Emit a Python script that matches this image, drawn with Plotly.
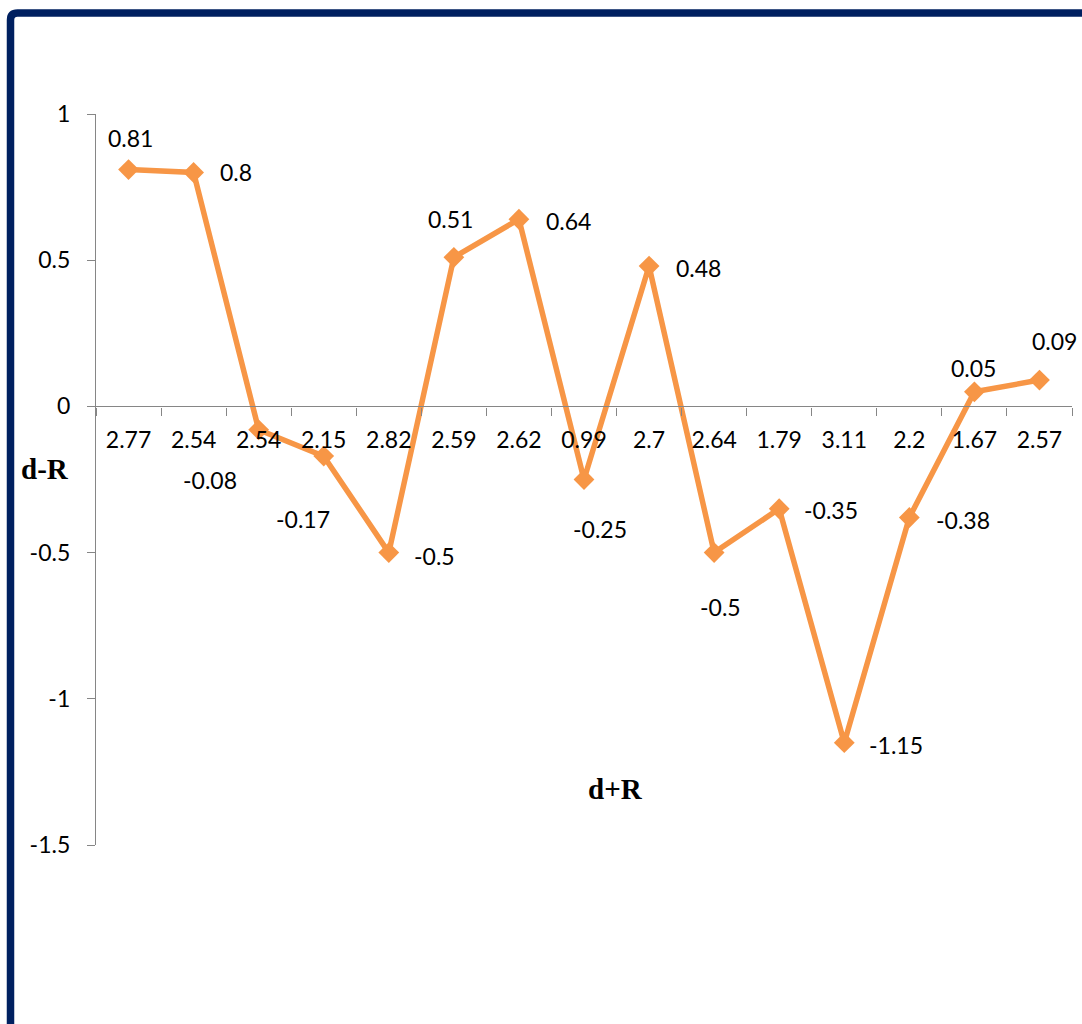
import plotly.graph_objects as go

# Category labels (d+R) and series values (d-R)
categories = ["2.77", "2.54", "2.54", "2.15", "2.82", "2.59", "2.62", "0.99",
              "2.7", "2.64", "1.79", "3.11", "2.2", "1.67", "2.57"]
values = [0.81, 0.8, -0.08, -0.17, -0.5, 0.51, 0.64, -0.25,
          0.48, -0.5, -0.35, -1.15, -0.38, 0.05, 0.09]
y_ticks = [1, 0.5, 0, -0.5, -1, -1.5]

# Pixel offsets (dx right, dy down) of each data label from its point
label_offsets = [(2, -32), (42, 0), (-49, 50), (-21, 63), (46, 3), (-3, -38),
                 (50, 2), (16, 49), (49, 2), (6, 54), (52, 1), (52, 2),
                 (54, 2), (-1, -24), (15, -39)]

W, H = 1082, 1024
L, R, T, B = 96, 10, 114, 179
PW, PH = W - L - R, H - T - B

ORANGE = "#F79646"
GRAY = "#868686"
NAVY = "#002060"
TICK_FONT = dict(family="Lato, 'Open Sans', sans-serif", size=23, color="#000000")


def px(x):
    return (x - L) / PW


def py(y):
    return (H - B - y) / PH


x_idx = list(range(len(categories)))

fig = go.Figure()
fig.add_trace(go.Scatter(
    x=x_idx, y=values, mode="lines+markers",
    line=dict(color=ORANGE, width=5.5),
    marker=dict(symbol="diamond", size=16, color=ORANGE),
    hoverinfo="skip", showlegend=False,
))

annotations = []
for i, (v, (dx, dy)) in enumerate(zip(values, label_offsets)):
    annotations.append(dict(
        x=i, y=v, xref="x", yref="y", text=f"{v:g}", showarrow=False,
        xshift=dx, yshift=-dy, xanchor="center", yanchor="middle",
        font=TICK_FONT,
    ))

title_font = dict(family="'Liberation Serif', 'DejaVu Serif', serif", size=29,
                  color="#000000", weight="bold")
annotations.append(dict(x=px(45), y=py(469), xref="paper", yref="paper", text="d-R",
                        showarrow=False, xanchor="center", yanchor="middle", font=title_font))
annotations.append(dict(x=px(615), y=py(789), xref="paper", yref="paper", text="d+R",
                        showarrow=False, xanchor="center", yanchor="middle", font=title_font))

# Chart-area frame: rounded top-left corner, runs off the right and bottom edges
fx, fy, rad = 10.5, 13, 7
frame_path = (f"M {px(fx)},{py(1100)} L {px(fx)},{py(fy + rad)} "
              f"Q {px(fx)},{py(fy)} {px(fx + rad)},{py(fy)} L {px(1100)},{py(fy)}")

y_min, y_max = -1.5, 1.0
zero_pos = (0 - y_min) / (y_max - y_min)

fig.update_layout(
    width=W, height=H,
    margin=dict(l=L, r=R, t=T, b=B, pad=0),
    paper_bgcolor="white", plot_bgcolor="white",
    annotations=annotations,
    shapes=[dict(type="path", path=frame_path, xref="paper", yref="paper",
                 line=dict(color=NAVY, width=7.5))],
    xaxis=dict(
        range=[-0.5, len(categories) - 0.5],
        tickvals=x_idx, ticktext=categories,
        ticks="outside", ticklen=8, tickcolor="rgba(0,0,0,0)",
        showline=True, linecolor=GRAY, linewidth=1.3,
        showgrid=False, zeroline=False,
        anchor="free", position=zero_pos,
        tickfont=TICK_FONT, ticklabelstandoff=5,
        minor=dict(tickvals=[i - 0.5 for i in range(len(categories) + 1)],
                   ticks="outside", ticklen=8, tickcolor=GRAY, tickwidth=1.3,
                   showgrid=False),
    ),
    yaxis=dict(
        range=[y_min, y_max],
        tickvals=y_ticks, ticktext=[f"{v:g}" for v in y_ticks],
        ticks="outside", ticklen=8, tickcolor=GRAY, tickwidth=1.3,
        showline=True, linecolor=GRAY, linewidth=1.3,
        showgrid=False, zeroline=False,
        tickfont=TICK_FONT, ticklabelstandoff=12,
    ),
)

fig.write_html("out.html")
